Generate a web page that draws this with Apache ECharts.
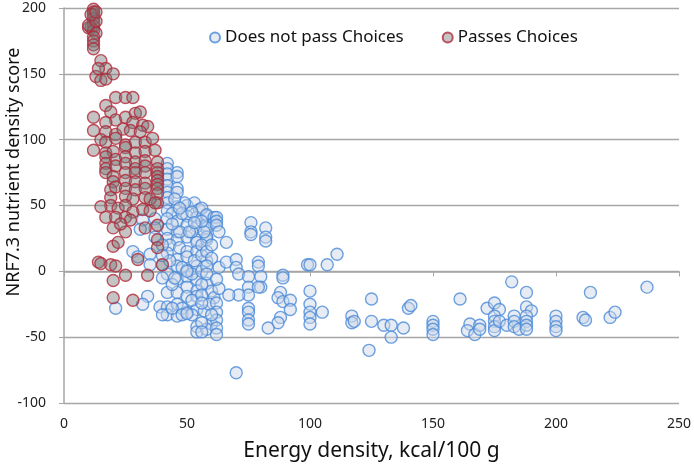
<!DOCTYPE html>
<html><head><meta charset="utf-8">
<script src="https://cdn.jsdelivr.net/npm/echarts@6/dist/echarts.min.js"></script>
<style>html,body{margin:0;padding:0;background:#fff}#c{width:694px;height:468px}</style>
</head><body><div id="c"></div>
<script>
var xTicks = [0, 50, 100, 150, 200, 250];
var yTicks = [-100, -50, 0, 50, 100, 150, 200];
var seriesNames = ['Does not pass Choices', 'Passes Choices'];
var xTitle = 'Energy density, kcal/100 g';
var yTitle = 'NRF7.3 nutrient density score';

var doesNotPass = [
[42,82],[42,78],[46,75],[42,74],[42,70],[46,72],[42,65],[46,63],[42,60],[46,60],[42,56],[42,52],[46,49],[50,50],[53,52],[49,52],[55,47],[42,46],[44,44],
[32,39],[37,40],[42,40],[46,38],[50,42],[54,41],[58,42],
[31,32],[37,33],[42,32],[46,30],[50,35],[54,34],[58,35],
[37,26],[42,25],[46,24],[50,26],[54,24],[58,26],
[43,20],[47,18],[50,15],[54,22],[58,24],
[28,15],[30,11],[35,13],[42,14],[46,9],[50,11],[54,15],
[35,5],[40,5],[46,4],[50,1],[54,4],[58,8],
[42,-2],[46,-6],[50,-4],[50,-12],[54,-6],[54,-15],[58,-9],
[34,-19],[42,-16],[46,-16],[50,-19],[54,-19],
[21,-28],[32,-25],[39,-27],[42,-27],[46,-25],[42,-33],[46,-34],[50,-31],[54,-29],
[54,-42],[54,-46],
[56,48],[58,43],[61,41],[61,37],[58,33],[58,26],
[62,41],[62,38],[62,35],[57,30],
[40,20],[40,-5],[40,-33],[43,8],[44,-10],[47,30],[48,44],[44,36],[48,-28],[52,-22],[52,30],[52,45],[53,8],[52,-2],
[56,38],[56,20],[56,12],[56,0],[58,15],[60,20],[60,10],[60,-15],[60,-40],[58,-44],[61,-20],[63,30],[63,3],[63,-13],
[57,-30],[59,-25],[44,-28],[48,-33],[52,-33],[40,12],[45,55],[47,48],[51,30],[53,37],[45,-5],[48,3],
[66,22],
[66,7],[70,9],[70,3],[71,-2],[79,7],[79,4],[58,4],[58,-2],[62,-6],[75,-4],[80,-4],[75,-12],[80,-12],[89,-3],[89,-5],[99,5],
[76,37],[76,30],[76,28],[82,33],[82,26],[82,23],
[88,-16],[87,-20],[89,-23],[92,-22],[92,-29],[88,-35],[87,-39],[83,-43],[79,-12],[75,-18],[75,-28],[75,-31],[75,-37],[75,-40],[71,-18],[67,-18],[70,-77],
[56,-10],[56,-18],[56,-24],[56,-39],[56,-46],[62,-24],[62,-31],[62,-37],[62,-43],[62,-48],[60,-33],[50,0],[50,-32],
[100,5],[107,5],[111,13],[100,-15],[100,-25],[100,-31],[100,-35],[100,-40],[105,-31],[117,-34],[117,-39],[118,-38],
[182,-8],[188,-16],[214,-16],[237,-12],[125,-21],[161,-21],[140,-28],[141,-26],
[125,-38],[130,-41],[133,-41],[133,-50],[138,-43],[124,-60],
[150,-38],[150,-41],[150,-44],[150,-48],
[165,-40],[164,-45],[167,-48],[169,-41],[169,-44],
[172,-28],[175,-24],[177,-29],[175,-34],[175,-38],[175,-42],[175,-45],[177,-38],[180,-41],
[183,-34],[183,-38],[183,-42],[185,-44],
[188,-27],[190,-30],[188,-34],[188,-38],[188,-41],[188,-44],
[200,-34],[200,-38],[200,-42],[200,-45],
[211,-35],[212,-37],[222,-35],[224,-31]
];

var passes = [
[12,199],[12,197],[12,195],[12,192],[12,189],[12,186],[11,185],[10,185],[12,183],[13,181],[12,178],[12,175],[12,172],[12,169],
[10,187],[13,190],[11,195],[13,197],
[15,160],[17,154],[13,148],[15,145],[17,146],[20,150],[14,154],
[21,132],[25,132],[28,132],
[17,126],[19,121],[21,115],[25,117],[29,120],[31,121],[12,117],
[17,113],[28,113],[32,111],[34,110],[12,107],[17,106],[21,104],[24,108],[27,107],[31,106],
[15,100],[17,98],[21,101],[25,96],[29,98],[33,98],[36,101],
[12,92],[17,90],[20,91],[25,94],[29,90],[33,91],[37,92],
[17,87],[21,85],[25,87],[29,83],[33,84],[38,83],
[17,82],[17,78],[21,80],[25,82],[29,78],[33,80],[38,78],
[17,75],[20,72],[25,75],[29,75],[33,75],[38,75],[38,72],
[20,68],[25,69],[29,68],[33,67],[38,69],[38,66],
[19,62],[21,64],[25,63],[29,62],[33,63],[38,63],[38,59],
[19,56],[25,57],[28,55],[33,56],[38,52],[35,55],
[19,50],[15,49],[22,48],[25,50],[28,45],[32,47],[35,46],[37,52],
[17,41],[21,41],[25,41],[27,39],[20,33],[25,30],[23,36],[33,33],[38,35],
[20,19],[22,22],[38,24],[38,18],[30,9],
[14,7],[15,6],[19,5],[21,4],[25,-3],[20,-7],[34,-3],[40,5],
[20,-20],[28,-22]
];

var chart = echarts.init(document.getElementById('c'), null, {renderer: 'canvas'});
var font = '"Noto Sans", "Open Sans", sans-serif';
chart.setOption({
  animation: false,
  backgroundColor: '#fff',
  textStyle: {fontFamily: font},
  grid: {left: 64, right: 15, top: 8, bottom: 65},
  legend: {
    top: 24, left: 204, itemGap: 38, itemWidth: 10, itemHeight: 10,
    textStyle: {fontSize: 17, color: '#111', fontFamily: font},
    data: [
      {name: seriesNames[0], icon: 'circle'},
      {name: seriesNames[1], icon: 'circle'}
    ]
  },
  graphic: [{
    type: 'text', x: 14, y: 172, rotation: Math.PI / 2,
    style: {text: yTitle, fontSize: 18, fill: '#111', fontFamily: font, align: 'center', verticalAlign: 'middle'}
  }],
  xAxis: {
    type: 'value', min: xTicks[0], max: xTicks[xTicks.length - 1], interval: 50,
    name: xTitle, nameLocation: 'middle', nameGap: 38,
    nameTextStyle: {fontSize: 21, color: '#111'},
    axisLine: {show: true, lineStyle: {color: '#a6a6a6', width: 1.5}},
    axisTick: {show: true, length: 5, lineStyle: {color: '#a6a6a6'}},
    axisLabel: {fontSize: 14, color: '#222', margin: 14},
    splitLine: {show: false}
  },
  yAxis: {
    type: 'value', min: yTicks[0], max: yTicks[yTicks.length - 1], interval: 50,
    axisLine: {show: true, lineStyle: {color: '#a6a6a6', width: 1.5}},
    axisTick: {show: true, length: 5, lineStyle: {color: '#a6a6a6'}},
    axisLabel: {fontSize: 14, color: '#222', margin: 18},
    splitLine: {show: true, lineStyle: {color: '#a6a6a6', width: 1.3}}
  },
  series: [
    {
      name: seriesNames[0], type: 'scatter', data: doesNotPass, symbolSize: 12,
      itemStyle: {color: 'rgba(205,216,232,0.6)', borderColor: '#4a8ad8', borderWidth: 1.4}
    },
    {
      name: seriesNames[1], type: 'scatter', data: passes, symbolSize: 12,
      itemStyle: {color: 'rgba(120,120,120,0.55)', borderColor: '#b3283a', borderWidth: 1.4}
    }
  ]
});
</script></body></html>
